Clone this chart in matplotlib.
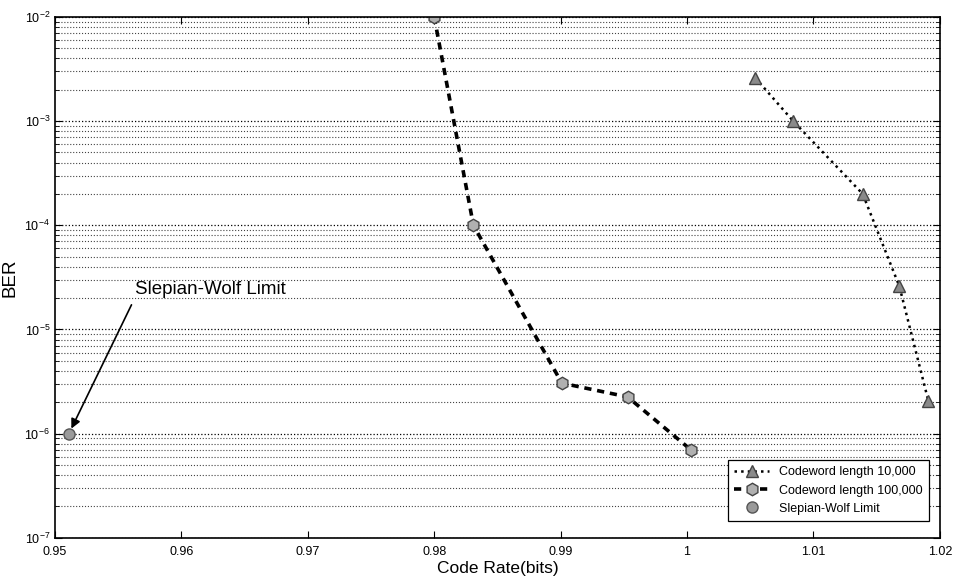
import matplotlib
matplotlib.use("Agg")
import matplotlib.pyplot as plt
from matplotlib.ticker import LogLocator, NullFormatter, FixedLocator

plt.rcParams['font.family'] = ['Liberation Sans', 'DejaVu Sans']

# Data
rate_10k = [1.0054, 1.0084, 1.0139, 1.0168, 1.0191]
ber_10k = [2.6e-3, 1.0e-3, 2.0e-4, 2.6e-5, 2.05e-6]

rate_100k = [0.9800, 0.9831, 0.9901, 0.9953, 1.0003]
ber_100k = [1.0e-2, 1.0e-4, 3.05e-6, 2.25e-6, 7.0e-7]

rate_sw = [0.9511]
ber_sw = [1.0e-6]

xticks = [0.95, 0.96, 0.97, 0.98, 0.99, 1.0, 1.01, 1.02]
xticklabels = ['0.95', '0.96', '0.97', '0.98', '0.99', '1', '1.01', '1.02']

fig = plt.figure(figsize=(9.57, 5.82), dpi=100)
ax = fig.add_axes([0.0575, 0.076, 0.9245, 0.895])

ax.set_yscale('log')
ax.set_xlim(0.95, 1.02)
ax.set_ylim(1e-7, 1e-2)

ax.plot(rate_10k, ber_10k, linestyle=':', color='black', linewidth=1.8,
        marker='^', markersize=8, markerfacecolor='#8a8a8a', markeredgecolor='#444444',
        label='Codeword length 10,000')
ax.plot(rate_100k, ber_100k, linestyle='--', color='black', linewidth=2.6,
        dashes=(2.0, 1.6),
        marker='h', markersize=9, markerfacecolor='#b0b0b0', markeredgecolor='#444444',
        label='Codeword length 100,000')
ax.plot(rate_sw, ber_sw, linestyle='none', color='black',
        marker='o', markersize=8, markerfacecolor='#9a9a9a', markeredgecolor='#555555',
        label='Slepian-Wolf Limit')

ax.annotate('Slepian-Wolf Limit', xy=(rate_sw[0], ber_sw[0]),
            xytext=(0.9563, 2.4e-5), fontsize=13.5, ha='left', va='center',
            arrowprops=dict(arrowstyle='-|>', color='black', lw=1.2, relpos=(0.0, 0.0),
                            shrinkA=3, shrinkB=4, mutation_scale=14))

ax.xaxis.set_major_locator(FixedLocator(xticks))
ax.set_xticklabels(xticklabels)
ax.yaxis.set_major_locator(LogLocator(base=10, numticks=10))
ax.yaxis.set_minor_locator(LogLocator(base=10, subs=range(2, 10), numticks=20))
ax.yaxis.set_minor_formatter(NullFormatter())

ax.grid(True, which='major', axis='y', linestyle=':', color='black', linewidth=0.9)
ax.grid(True, which='minor', axis='y', linestyle=':', color='#444444', linewidth=0.8)

ax.tick_params(axis='both', which='both', direction='in', labelsize=9, top=True, right=True)
ax.tick_params(axis='both', which='major', length=5)
ax.tick_params(axis='x', which='major', pad=6)
ax.tick_params(axis='y', which='minor', length=3)
for s in ax.spines.values():
    s.set_linewidth(1.2)

ax.set_xlabel('Code Rate(bits)', fontsize=12.5, labelpad=2)
ax.set_ylabel('BER', fontsize=13.5, labelpad=4)

leg = ax.legend(loc='lower right', fontsize=9, frameon=True, fancybox=False,
                edgecolor='black', framealpha=1, borderpad=0.5, handlelength=2.8,
                bbox_to_anchor=(0.995, 0.02))
leg.get_frame().set_linewidth(0.9)

fig.savefig('out.png', dpi=100)
